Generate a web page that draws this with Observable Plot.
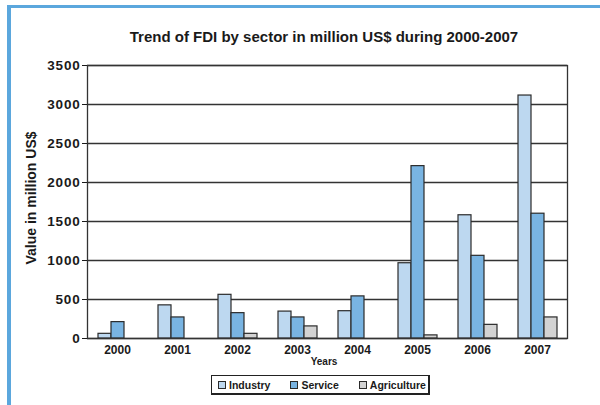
<!DOCTYPE html>
<html>
<head>
<meta charset="utf-8">
<script src="https://cdn.jsdelivr.net/npm/d3@7"></script>
<script src="https://cdn.jsdelivr.net/npm/@observablehq/plot@0.6"></script>
<style>
  html, body { margin: 0; padding: 0; background: #fff; }
  #wrap { position: relative; width: 600px; height: 405px; overflow: hidden; font-family: "Liberation Sans", Arial, sans-serif; }
  #border { position: absolute; left: 7px; top: 5px; right: -10px; bottom: -10px; border-top: 3px solid #5ba7dd; border-left: 4px solid #5ba7dd; }
  #chart { position: absolute; left: 0; top: 0; }
  #title { position: absolute; left: 0; width: 648px; top: 28px; text-align: center; font-size: 15px; font-weight: bold; color: #1a1a1a; }
  #ylabel { position: absolute; left: 31px; top: 198px; transform: translate(-50%, -50%) rotate(-90deg); white-space: nowrap; font-size: 14px; font-weight: bold; color: #1a1a1a; }
  #xlabel { position: absolute; left: 0; width: 648px; top: 356px; text-align: center; font-size: 10px; font-weight: bold; color: #1a1a1a; }
  #legend { position: absolute; left: 211px; top: 375px; width: 216px; height: 17px; border: 1px solid #222; border-right-width: 2px; border-bottom-width: 2px; display: flex; align-items: center; font-size: 10.5px; font-weight: bold; color: #1a1a1a; }
  .item { display: flex; align-items: center; }
  .sw { width: 6px; height: 6px; border: 1.2px solid #2b2b2b; margin-right: 3px; }
  .yax text { letter-spacing: 0.8px; }
</style>
</head>
<body>
<div id="wrap">
  <div id="border"></div>
  <div id="chart"></div>
  <div id="title">Trend of FDI by sector in million US$ during 2000-2007</div>
  <div id="ylabel">Value in million US$</div>
  <div id="xlabel">Years</div>
  <div id="legend"></div>
</div>
<script>
const years = ["2000", "2001", "2002", "2003", "2004", "2005", "2006", "2007"];
const sectors = ["Industry", "Service", "Agriculture"];
const colors = ["#bdd8f0", "#79b4e2", "#d3d3d3"];
const industry = [60, 425, 560, 345, 350, 965, 1580, 3115];
const service = [210, 270, 325, 270, 540, 2210, 1060, 1600];
const agriculture = [null, null, 60, 155, null, 40, 175, 270];
const yTicks = [0, 500, 1000, 1500, 2000, 2500, 3000, 3500];

const series = [industry, service, agriculture];
const table = [];
years.forEach((yr, i) => {
  sectors.forEach((s, k) => {
    const v = series[k][i];
    if (v != null) table.push({year: yr, sector: s, value: v});
  });
});

const legend = document.getElementById("legend");
const gaps = ["6px", "20px", "20px"];
sectors.forEach((s, k) => {
  const it = document.createElement("div");
  it.className = "item";
  it.style.marginLeft = gaps[k];
  const sw = document.createElement("div");
  sw.className = "sw";
  sw.style.background = colors[k];
  const tx = document.createElement("span");
  tx.textContent = s;
  it.appendChild(sw);
  it.appendChild(tx);
  legend.appendChild(it);
});

const chart = Plot.plot({
  width: 600,
  height: 405,
  marginTop: 65,
  marginBottom: 67,
  marginLeft: 86,
  marginRight: 33,
  style: {fontFamily: "'Liberation Sans', Arial, sans-serif", background: "transparent", color: "#1a1a1a"},
  fx: {domain: years, paddingInner: 0, paddingOuter: 0, label: null},
  x: {domain: sectors, paddingInner: 0, paddingOuter: 0.75, axis: null},
  y: {domain: [0, 3500], label: null},
  color: {domain: sectors, range: colors},
  marks: [
    Plot.ruleY(yTicks, {stroke: "#333", strokeWidth: 1.3}),
    Plot.barY(table, {fx: "year", x: "sector", y: "value", fill: "sector", stroke: "#2b2b2b", strokeWidth: 1.2}),
    Plot.frame({facet: "super", stroke: "#333", strokeWidth: 1.3}),
    Plot.axisY({ticks: yTicks, tickFormat: d => String(d), tickSize: 5, tickPadding: 2, fontSize: 13.5, fontWeight: "bold", label: null, className: "yax"}),
    Plot.axisFx({anchor: "bottom", tickSize: 0, tickPadding: 7, fontSize: 12, fontWeight: "bold", label: null})
  ]
});
document.getElementById("chart").appendChild(chart);
</script>
</body>
</html>
